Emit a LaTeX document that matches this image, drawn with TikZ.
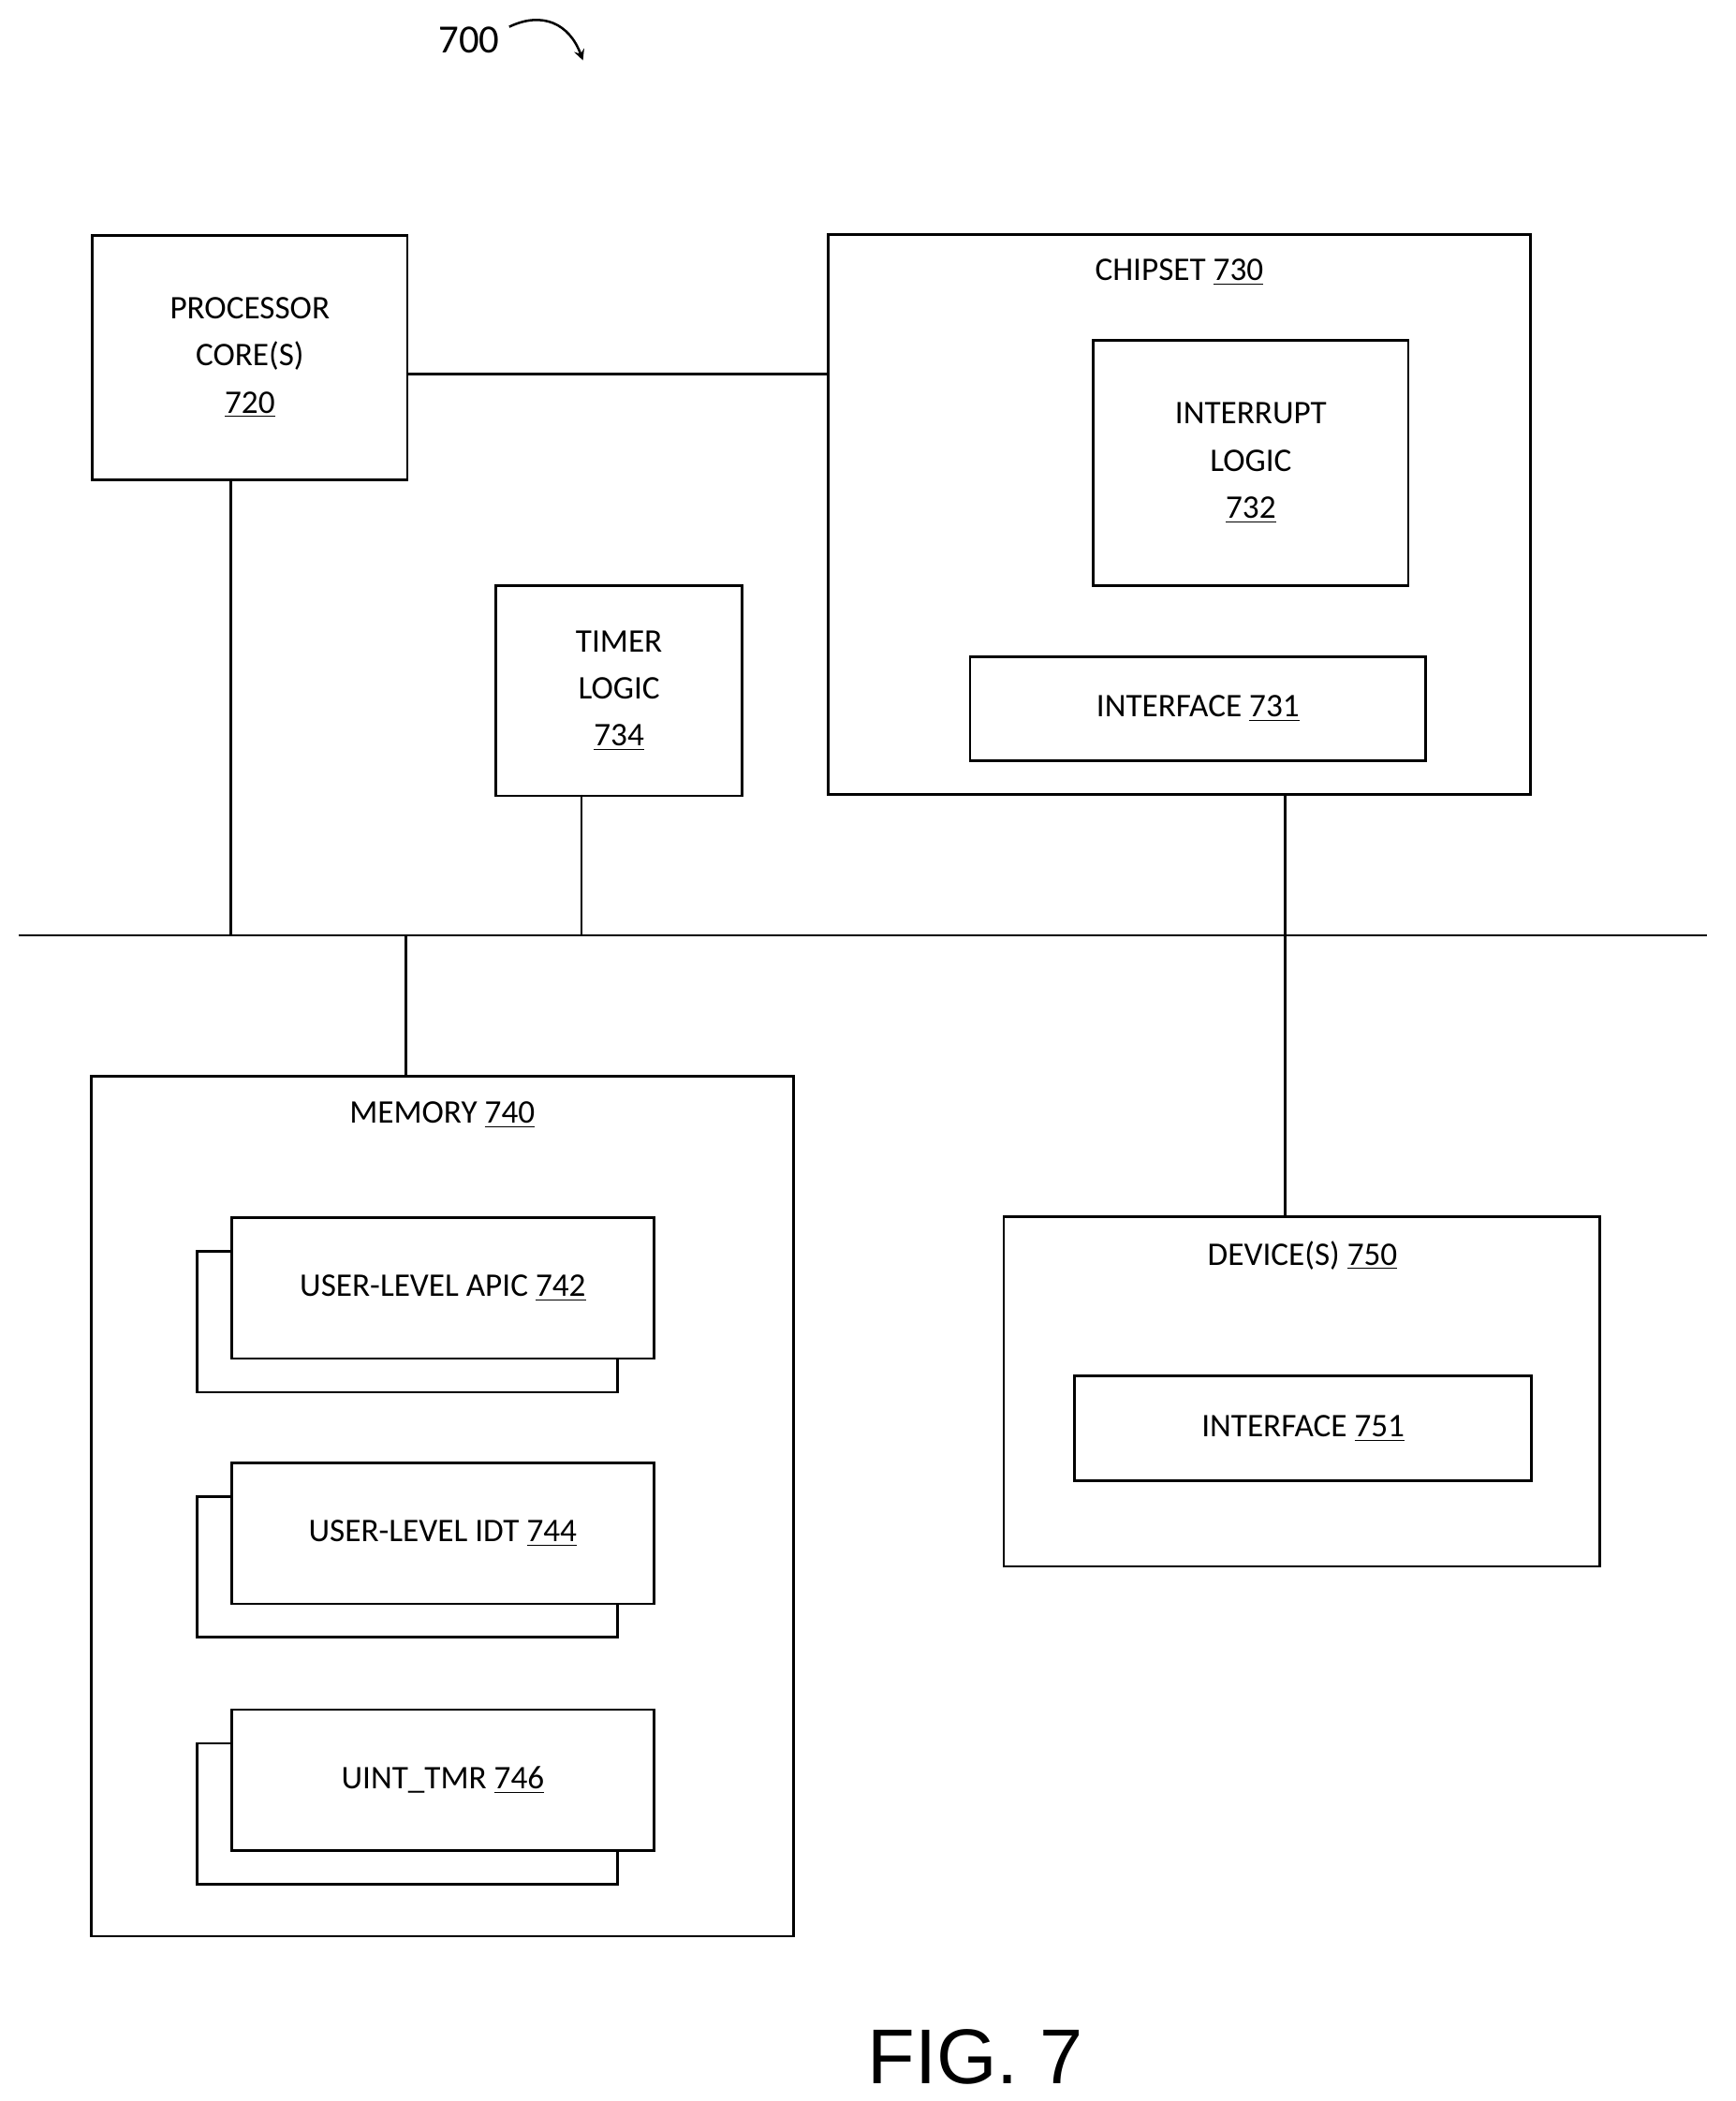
\documentclass[tikz,border=0pt]{standalone}
\usepackage{fontspec}
\setmainfont{Carlito}
\newfontfamily\figfont{Liberation Sans}
\usetikzlibrary{positioning}
\newcommand{\refnum}[1]{\underline{#1}}

\begin{document}
\begin{tikzpicture}[x=0.02cm,y=-0.02cm,line width=1.1pt,
  box/.style={draw,fill=white,inner sep=0pt,align=center,font=\fontsize{14}{20}\selectfont},
  lbl/.style={font=\fontsize{14}{20}\selectfont}]
  \useasboundingbox (0,0) rectangle (1295,1568);
  % outer boxes
  \node[box,minimum width=4.7cm,minimum height=3.64cm,anchor=north west] (proc) at (68,175)
    {PROCESSOR\\CORE(S)\\\refnum{720}};
  \draw (618,175) rectangle (1142,593);
  \node[lbl] (chipL) at (880,203) {CHIPSET \refnum{730}};
  \node[box,minimum width=4.7cm,minimum height=3.66cm,anchor=north west] (intr) at (815,253)
    {INTERRUPT\\LOGIC\\\refnum{732}};
  \node[box,minimum width=6.8cm,minimum height=1.56cm,anchor=north west] (if731) at (723,489)
    {INTERFACE \refnum{731}};
  \node[box,minimum width=3.68cm,minimum height=3.14cm,anchor=north west] (timer) at (369,436)
    {TIMER\\LOGIC\\\refnum{734}};
  % bus
  \coordinate (busW) at (14,698);
  \coordinate (busE) at (1274,698);
  \draw (busW) -- (busE);
  \draw (172,357) -- (172,698);
  \draw (434,593) -- (434,698);
  \draw (303,279) -- (618,279);
  \draw (959,593) -- (959,908);
  \draw (303,698) -- (303,803);
  % memory
  \draw (68,803) rectangle (592,1445);
  \node[lbl] (memL) at (330,832) {MEMORY \refnum{740}};
  \foreach \y/\txt in {908/{USER-LEVEL APIC \refnum{742}},1091/{USER-LEVEL IDT \refnum{744}},1275/{UINT\_TMR \refnum{746}}}{
    \draw (147,\y+26) rectangle (461,\y+131);
    \node[box,minimum width=6.3cm,minimum height=2.1cm,anchor=north west] at (172,\y) {\txt};
  }
  % devices
  \draw (749,908) rectangle (1194,1169);
  \node[lbl] (devL) at (972,937) {DEVICE(S) \refnum{750}};
  \node[box,minimum width=6.82cm,minimum height=1.56cm,anchor=north west] (if751) at (801,1026)
    {INTERFACE \refnum{751}};
  % labels
  \node[font=\fontsize{17}{20}\selectfont] (num) at (350,30) {700};
  \draw[-stealth,line width=1pt] (380,20) .. controls (405,8) and (425,18) .. (435,45);
  \node[font=\figfont\fontsize{33}{36}\selectfont] (fig) at (728,1535) {FIG. 7};
\end{tikzpicture}
\end{document}
